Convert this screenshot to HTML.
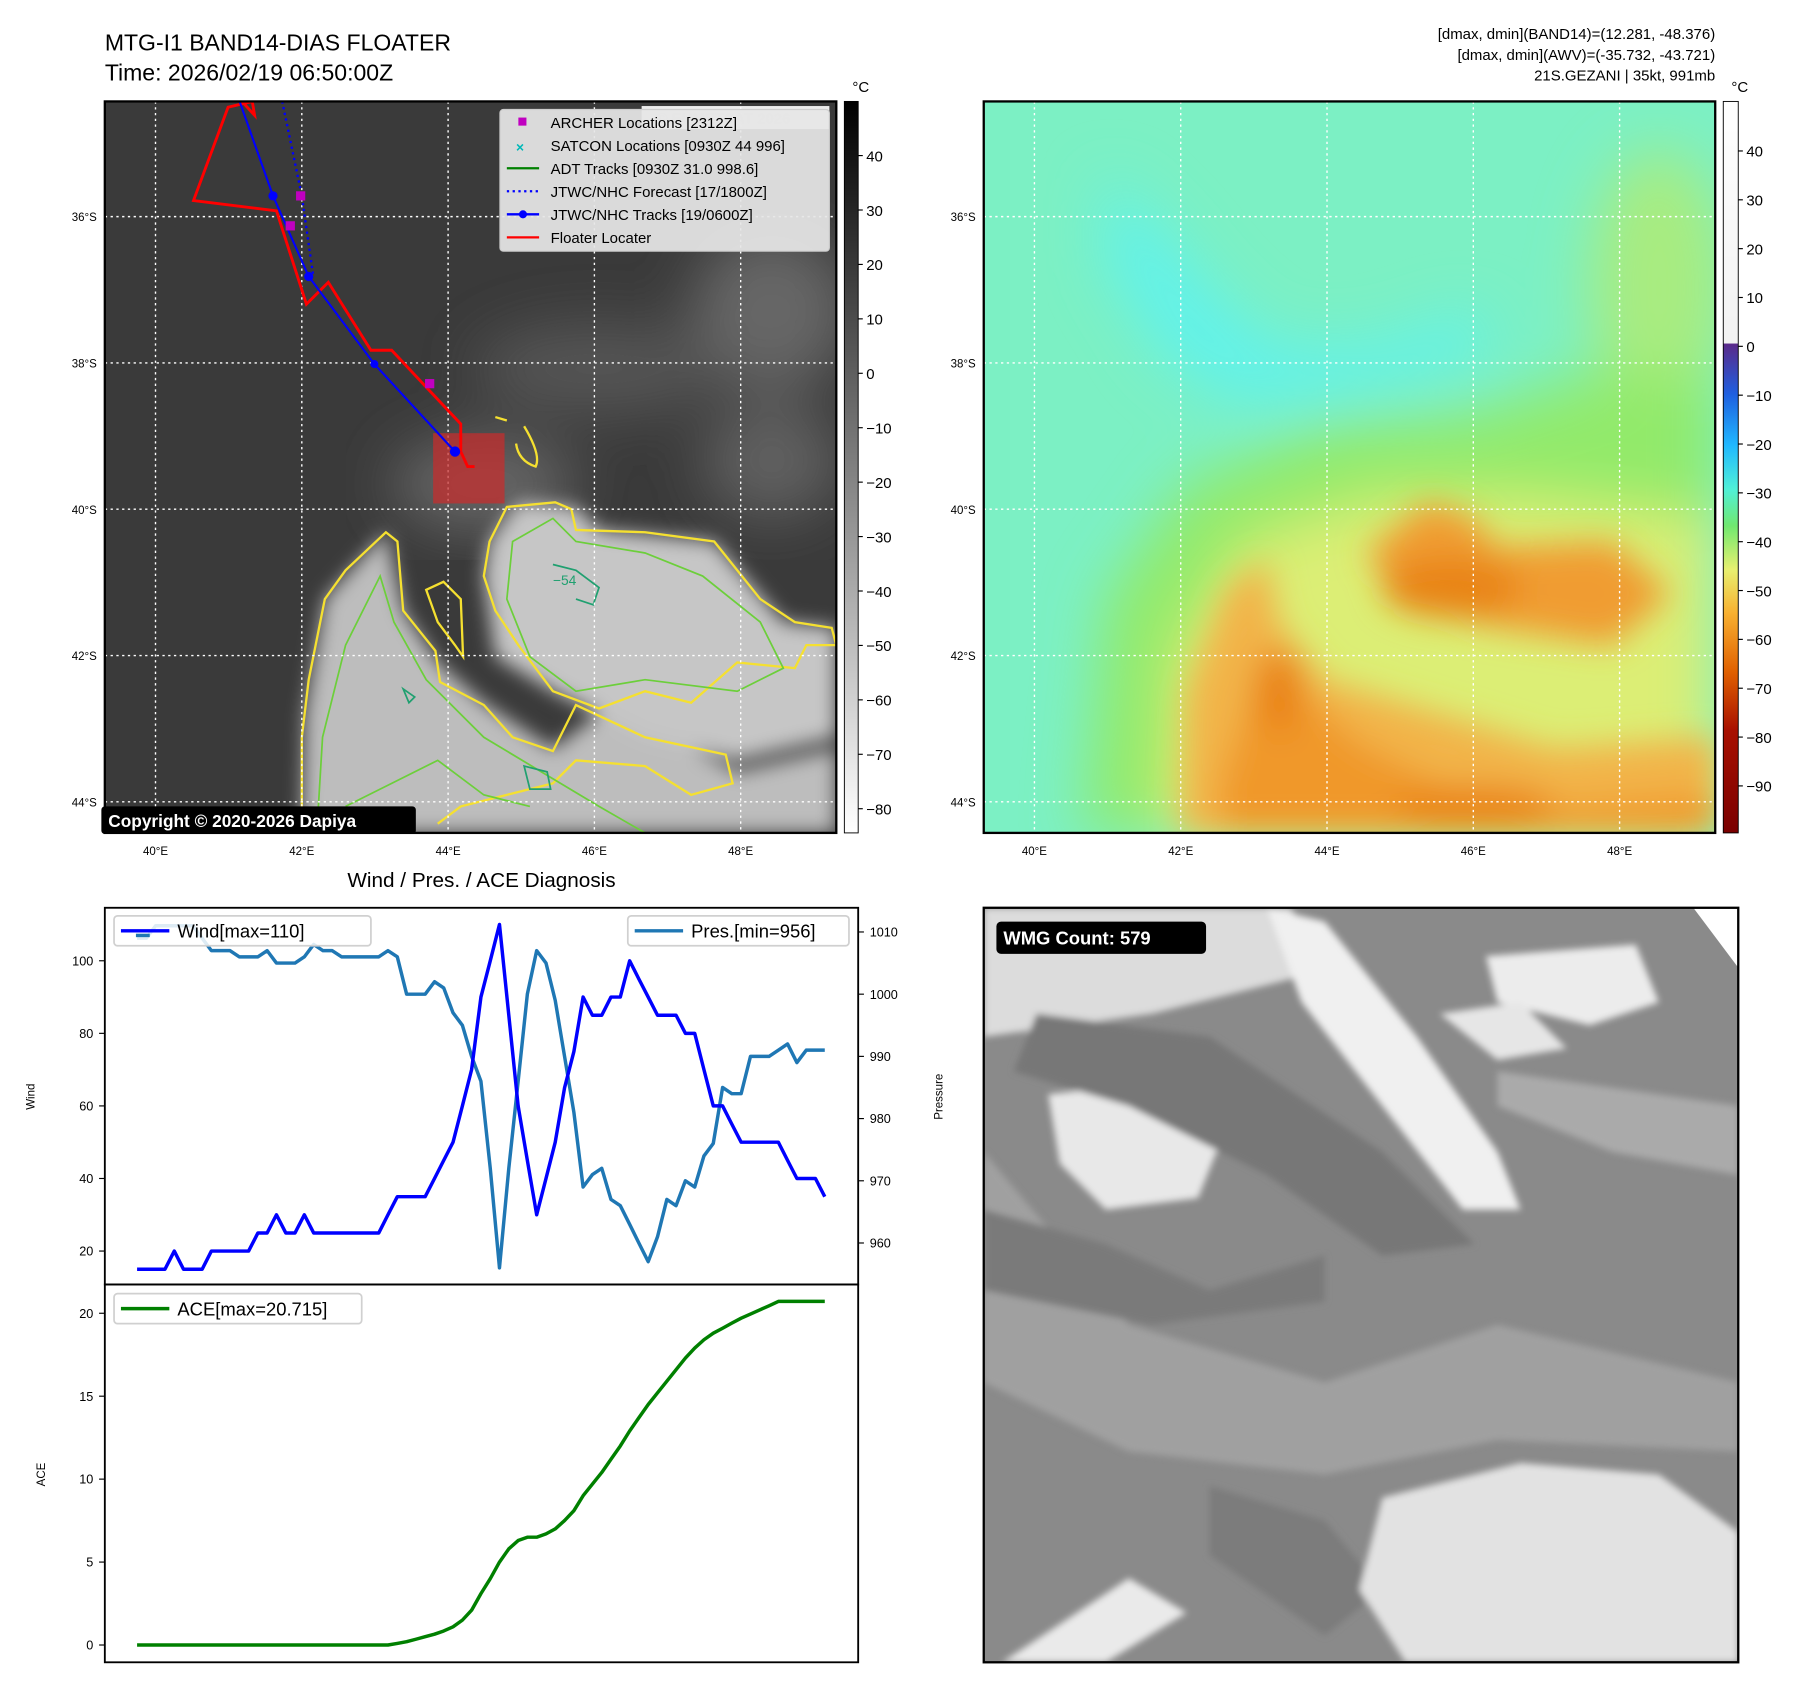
<!DOCTYPE html>
<html><head><meta charset="utf-8"><style>
html,body{margin:0;padding:0;background:#fff;}
svg{display:block;font-family:"Liberation Sans","DejaVu Sans",sans-serif;}
</style></head><body>
<svg id="fig" width="1797" height="1690" viewBox="0 0 1560 1467" xmlns="http://www.w3.org/2000/svg">
<defs>
<linearGradient id="cbGray" x1="0" y1="0" x2="0" y2="1"><stop offset="0" stop-color="#000"/><stop offset="1" stop-color="#fff"/></linearGradient>
<linearGradient id="cbColor" x1="0" y1="0" x2="0" y2="1">
<stop offset="0" stop-color="#ffffff"/><stop offset="0.33" stop-color="#f2f2f2"/>
<stop offset="0.332" stop-color="#5a2a8a"/><stop offset="0.4" stop-color="#1f5fe0"/>
<stop offset="0.47" stop-color="#20b8ff"/><stop offset="0.53" stop-color="#50f0d8"/>
<stop offset="0.58" stop-color="#70e870"/><stop offset="0.64" stop-color="#e8f070"/>
<stop offset="0.70" stop-color="#f8b030"/><stop offset="0.78" stop-color="#e06000"/>
<stop offset="0.86" stop-color="#a81000"/><stop offset="1" stop-color="#7a0000"/></linearGradient>
<filter id="blur3"><feGaussianBlur stdDeviation="3"/></filter>
<filter id="blur8"><feGaussianBlur stdDeviation="8"/></filter>
<filter id="blur14"><feGaussianBlur stdDeviation="14"/></filter>
<filter id="blur25"><feGaussianBlur stdDeviation="25"/></filter>
<clipPath id="clipL"><rect x="91" y="88" width="635" height="635"/></clipPath>
<clipPath id="clipR"><rect x="854" y="88" width="635" height="635"/></clipPath>
<clipPath id="clipB"><rect x="854" y="788" width="655" height="655"/></clipPath>
</defs>

<text x="91" y="44" font-size="20">MTG-I1 BAND14-DIAS FLOATER</text>
<text x="91" y="70" font-size="20">Time: 2026/02/19 06:50:00Z</text>
<g font-size="13" text-anchor="end">
<text x="1489" y="34">[dmax, dmin](BAND14)=(12.281, -48.376)</text>
<text x="1489" y="52">[dmax, dmin](AWV)=(-35.732, -43.721)</text>
<text x="1489" y="70">21S.GEZANI | 35kt, 991mb</text>
</g>

<g clip-path="url(#clipL)">
<rect x="91" y="88" width="635" height="635" fill="#3a3a3a"/>
<g filter="url(#blur25)" fill="#666">
<ellipse cx="670" cy="270" rx="70" ry="70"/>
<ellipse cx="520" cy="320" rx="110" ry="40" fill="#555"/>
<ellipse cx="420" cy="420" rx="80" ry="40" fill="#666"/>
<ellipse cx="670" cy="400" rx="60" ry="50" fill="#606060"/>
</g>
<g filter="url(#blur8)">
<path d="M262 723 L265 620 L282 520 L335 462 L350 530 L380 575 L420 610 L480 650 L520 620 L600 650 L640 670 L726 650 L726 723 Z" fill="#bdbdbd"/>
<path d="M425 470 L450 436 L500 440 L520 460 L620 470 L680 540 L726 545 L726 640 L640 660 L560 640 L480 600 L430 570 L420 500 Z" fill="#c6c6c6"/>
</g>
<g fill="none" stroke="#f5e030" stroke-width="2">
<path d="M262 723 L262 640 L268 590 L282 520 L300 495 L335 462 L345 470 L350 530 L378 565 L382 592 L420 612 L445 640 L480 652 L500 612 L560 640 L630 655 L636 680 L600 690 L560 665 L500 660 L480 680 L440 690 L400 700 L380 715"/>
<path d="M425 470 L440 440 L482 436 L496 442 L500 460 L560 462 L620 470 L660 520 L690 540 L722 545 L726 560 L700 560 L690 580 L640 575 L600 610 L560 600 L520 615 L480 600 L450 560 L430 530 L420 500 Z"/>
<path d="M370 512 L385 505 L400 520 L402 570 L395 560 L380 540 Z"/>
<path d="M430 362 L440 365 M455 370 Q470 395 465 405 Q450 400 448 385"/>
</g>
<g fill="none" stroke="#6ccf3a" stroke-width="1.5">
<path d="M275 723 L280 640 L300 560 L330 500 L342 540 L370 590 L420 640 L470 670 L520 700 L560 723"/>
<path d="M445 470 L480 450 L500 470 L560 480 L610 500 L660 540 L680 580 L640 600 L560 590 L500 600 L460 570 L440 520 Z"/>
<path d="M300 700 L340 680 L380 660 L420 690 L460 700"/>
</g>
<g fill="none" stroke="#20a070" stroke-width="1.5">
<path d="M480 490 L500 495 L520 510 L515 525 L500 520"/><path d="M455 665 L475 670 L478 685 L460 685 Z"/><path d="M350 598 L360 605 L355 610 Z"/>
</g>
<text x="480" y="508" font-size="12" fill="#20a070">−54</text>
<g stroke="#fff" stroke-width="1.2" stroke-dasharray="2,3">
<line x1="135" y1="88" x2="135" y2="723"/><line x1="262" y1="88" x2="262" y2="723"/><line x1="389" y1="88" x2="389" y2="723"/><line x1="516" y1="88" x2="516" y2="723"/><line x1="643" y1="88" x2="643" y2="723"/>
<line x1="91" y1="188" x2="726" y2="188"/><line x1="91" y1="315" x2="726" y2="315"/><line x1="91" y1="442" x2="726" y2="442"/><line x1="91" y1="569" x2="726" y2="569"/><line x1="91" y1="696" x2="726" y2="696"/>
</g>
<rect x="376" y="376" width="62" height="61" fill="rgba(200,45,45,0.72)"/>
<polyline points="210,88 221,100 219,88 198,93 168,174 240,183 266,264 285,245 322,304 340,304 400,368 400,392 406,405 412,405" fill="none" stroke="#f00" stroke-width="2.5"/>
<polyline points="245,88 262,170 272,240" fill="none" stroke="#00f" stroke-width="2" stroke-dasharray="2,3"/>
<polyline points="208,88 237,170 268,240 325,316 395,392" fill="none" stroke="#00f" stroke-width="1.8"/>
<g fill="#00f"><circle cx="237" cy="170" r="4"/><circle cx="268" cy="240" r="4"/><circle cx="325" cy="316" r="3.5"/><circle cx="395" cy="392" r="4.5"/></g>
<g fill="#c000c0"><rect x="257" y="166" width="8" height="8"/><rect x="248" y="192" width="8" height="8"/><rect x="369" y="329" width="8" height="8"/></g>
</g>
<rect x="91" y="88" width="635" height="635" fill="none" stroke="#000" stroke-width="2"/>
<g>
<rect x="557" y="92" width="163" height="20" fill="#fff" opacity="0.9"/>
<text x="570" y="107" font-size="13" fill="#ddd" font-weight="bold">© EUMETSAT 2026</text>
<rect x="434" y="95" width="286" height="123" rx="3" fill="#e6e6e6" fill-opacity="0.93" stroke="#ccc"/>
<g font-size="13">
<rect x="450" y="102" width="7" height="7" fill="#c000c0"/><text x="478" y="111">ARCHER Locations [2312Z]</text>
<text x="448" y="132" fill="#00b8b8" font-size="12" font-weight="bold">×</text><text x="478" y="131">SATCON Locations [0930Z 44 996]</text>
<line x1="440" y1="146" x2="468" y2="146" stroke="#008000" stroke-width="2"/><text x="478" y="151">ADT Tracks [0930Z 31.0 998.6]</text>
<line x1="440" y1="166" x2="468" y2="166" stroke="#00f" stroke-width="2" stroke-dasharray="2,3"/><text x="478" y="171">JTWC/NHC Forecast [17/1800Z]</text>
<line x1="440" y1="186" x2="468" y2="186" stroke="#00f" stroke-width="2"/><circle cx="454" cy="186" r="3.5" fill="#00f"/><text x="478" y="191">JTWC/NHC Tracks [19/0600Z]</text>
<line x1="440" y1="206" x2="468" y2="206" stroke="#f00" stroke-width="2"/><text x="478" y="211">Floater Locater</text>
</g></g>
<rect x="88" y="700" width="273" height="24" rx="3" fill="#000"/>
<text x="94" y="718" font-size="15" font-weight="bold" fill="#fff">Copyright © 2020-2026 Dapiya</text>
<g font-size="10" text-anchor="end">
<text x="84" y="192">36°S</text><text x="84" y="319">38°S</text><text x="84" y="446">40°S</text><text x="84" y="573">42°S</text><text x="84" y="700">44°S</text></g>
<g font-size="10" text-anchor="middle">
<text x="135" y="742">40°E</text><text x="262" y="742">42°E</text><text x="389" y="742">44°E</text><text x="516" y="742">46°E</text><text x="643" y="742">48°E</text></g>
<g>
<rect x="733" y="88" width="12" height="635" fill="url(#cbGray)" stroke="#000" stroke-width="0.8"/>
<text x="740" y="80" font-size="13">°C</text>
<g font-size="13" id="cbL"></g></g>

<g clip-path="url(#clipR)">
<rect x="854" y="88" width="635" height="635" fill="#7cf0c4"/>
<g filter="url(#blur25)">
<path d="M960 150 L1010 200 L1060 260 L1110 300 L1190 300 L1280 270 L1300 300 L1230 330 L1140 350 L1070 350 L1010 310 L960 230 Z" fill="#62f2ea"/>
<ellipse cx="1440" cy="250" rx="60" ry="120" fill="#a8ec80"/>
<path d="M940 723 L960 520 L1030 420 L1150 370 L1280 360 L1400 320 L1489 330 L1489 723 Z" fill="#92ea6a"/>
<path d="M1010 723 L1020 570 L1080 470 L1200 430 L1320 430 L1489 450 L1489 723 Z" fill="#dcee74"/>
</g>
<g filter="url(#blur14)">
<path d="M1025 723 L1030 600 L1065 510 L1100 485 L1110 540 L1150 590 L1250 620 L1350 650 L1489 640 L1489 723 Z" fill="#f2b448"/>
<path d="M1185 480 L1240 435 L1280 450 L1300 475 L1400 470 L1450 515 L1400 560 L1300 545 L1230 530 Z" fill="#f09c30"/>
<path d="M1060 680 L1095 580 L1130 600 L1180 645 L1250 680 L1350 700 L1489 690 L1489 723 L1060 723 Z" fill="#f0982a"/>
<ellipse cx="1260" cy="510" rx="60" ry="26" fill="#e98418"/>
<ellipse cx="1110" cy="600" rx="22" ry="36" fill="#ea8418"/>
<ellipse cx="1280" cy="700" rx="70" ry="18" fill="#ea8418"/>
</g>
<g stroke="#fff" stroke-width="1.2" stroke-dasharray="2,3">
<line x1="898" y1="88" x2="898" y2="723"/><line x1="1025" y1="88" x2="1025" y2="723"/><line x1="1152" y1="88" x2="1152" y2="723"/><line x1="1279" y1="88" x2="1279" y2="723"/><line x1="1406" y1="88" x2="1406" y2="723"/>
<line x1="854" y1="188" x2="1489" y2="188"/><line x1="854" y1="315" x2="1489" y2="315"/><line x1="854" y1="442" x2="1489" y2="442"/><line x1="854" y1="569" x2="1489" y2="569"/><line x1="854" y1="696" x2="1489" y2="696"/>
</g></g>
<rect x="854" y="88" width="635" height="635" fill="none" stroke="#000" stroke-width="2"/>
<g font-size="10" text-anchor="end"><text x="847" y="192">36°S</text><text x="847" y="319">38°S</text><text x="847" y="446">40°S</text><text x="847" y="573">42°S</text><text x="847" y="700">44°S</text></g>
<g font-size="10" text-anchor="middle"><text x="898" y="742">40°E</text><text x="1025" y="742">42°E</text><text x="1152" y="742">44°E</text><text x="1279" y="742">46°E</text><text x="1406" y="742">48°E</text></g>
<g>
<rect x="1496" y="88" width="13" height="635" fill="url(#cbColor)" stroke="#000" stroke-width="0.8"/>
<text x="1503" y="80" font-size="13">°C</text>
<g font-size="13" id="cbR"></g></g>

<g clip-path="url(#clipB)">
<rect x="854" y="788" width="655" height="655" fill="#8a8a8a"/>
<g filter="url(#blur3)">
<path d="M854 788 L1120 788 L1160 840 L1000 880 L854 900 Z" fill="#dcdcdc"/>
<path d="M1100 788 L1150 800 L1230 900 L1300 1000 L1320 1050 L1270 1050 L1200 960 L1130 870 Z" fill="#f0f0f0"/>
<path d="M1290 830 L1420 820 L1440 870 L1380 890 L1300 870 Z" fill="#ececec"/>
<path d="M1250 880 L1320 870 L1360 910 L1300 920 Z" fill="#e6e6e6"/>
<path d="M910 950 L1000 940 L1060 990 L1040 1040 L960 1050 L920 1010 Z" fill="#e8e8e8"/>
<path d="M854 1000 L980 1150 L1150 1200 L1300 1150 L1509 1200 L1509 1260 L1300 1250 L1150 1280 L980 1260 L854 1200 Z" fill="#a0a0a0"/>
<path d="M900 880 L1050 900 L1200 1000 L1280 1080 L1200 1090 L1100 1020 L980 960 L880 930 Z" fill="#777"/>
<path d="M1300 930 L1509 960 L1509 1020 L1400 1000 L1300 960 Z" fill="#aaa"/>
<path d="M854 1050 L960 1080 L1050 1120 L1150 1090 L1150 1130 L1000 1150 L854 1120 Z" fill="#7a7a7a"/>
<path d="M1050 1290 L1150 1320 L1200 1380 L1150 1420 L1050 1350 Z" fill="#7c7c7c"/>
<path d="M1200 1300 L1320 1270 L1440 1280 L1509 1330 L1509 1443 L1220 1443 L1180 1380 Z" fill="#e2e2e2"/>
<path d="M980 1370 L1030 1400 L960 1443 L870 1443 Z" fill="#eaeaea"/>
</g>
<path d="M1470 788 L1509 788 L1509 840 Z" fill="#fff"/>
</g>
<rect x="854" y="788" width="655" height="655" fill="none" stroke="#000" stroke-width="2"/>
<rect x="865" y="800" width="182" height="28" rx="4" fill="#000"/>
<text x="871" y="820" font-size="16" font-weight="bold" fill="#fff">WMG Count: 579</text>

<text x="418" y="770" font-size="18" text-anchor="middle">Wind / Pres. / ACE Diagnosis</text>
<g id="chart"></g>
</svg>
<script>
const windVals=[15,15,15,15,20,15,15,15,20,20,20,20,20,25,25,30,25,25,30,25,25,25,25,25,25,25,25,30,35,35,35,35,40,45,50,60,70,90,100,110,85,60,45,30,40,50,65,75,90,85,85,90,90,100,95,90,85,85,85,80,80,70,60,60,55,50,50,50,50,50,45,40,40,40,35];
const presVals=[1009,1009,1011,1011,1011,1011,1011,1009,1007,1007,1007,1006,1006,1006,1007,1005,1005,1005,1006,1008,1007,1007,1006,1006,1006,1006,1006,1007,1006,1000,1000,1000,1002,1001,997,995,990,986,972,956,972,986,1000,1007,1005,999,990,981,969,971,972,967,966,963,960,957,961,967,966,970,969,974,976,985,984,984,990,990,990,991,992,989,991,991,991];
const aceVals=[0,0,0,0,0,0,0,0,0,0,0,0,0,0,0,0,0,0,0,0,0,0,0,0,0,0,0,0,0.1,0.2,0.35,0.5,0.65,0.85,1.1,1.5,2.1,3.1,4.0,5.0,5.8,6.3,6.5,6.5,6.7,7.0,7.5,8.1,9.0,9.7,10.4,11.2,12.0,12.9,13.7,14.5,15.2,15.9,16.6,17.3,17.9,18.4,18.8,19.1,19.4,19.7,19.95,20.2,20.45,20.715,20.715,20.715,20.715,20.715,20.715];
const windTicks=[20,40,60,80,100];
const presTicks=[960,970,980,990,1000,1010];
const aceTicks=[0,5,10,15,20];
const irTicks=[40,30,20,10,0,-10,-20,-30,-40,-50,-60,-70,-80];
const awvTicks=[40,30,20,10,0,-10,-20,-30,-40,-50,-60,-70,-80,-90];

const NS="http://www.w3.org/2000/svg";
function mk(tag,attrs,parent){const e=document.createElementNS(NS,tag);for(const k in attrs)e.setAttribute(k,attrs[k]);parent.appendChild(e);return e;}
const X0=91,X1=745,T=788,MID=1115,B=1443;
const n=windVals.length;
const xS=i=>119+(716-119)*i/(n-1);
const yWind=v=>834+(100-v)*3.15;
const yPres=v=>809+(1010-v)*5.4;
const yAce=v=>1428-v*14.4;
const yIr=v=>135+(40-v)*4.725;
const yAwv=v=>131+(40-v)*4.24;
const g=document.getElementById('chart');

function path(vals,fx,fy,color,name){
  const p=mk('polyline',{points:vals.map((v,i)=>fx(i).toFixed(1)+','+fy(v).toFixed(1)).join(' '),fill:'none',stroke:color,'stroke-width':3,'stroke-linejoin':'round'},g);
  
  
}
path(presVals,xS,yPres,'#1f77b4','pressure-line');
path(windVals,xS,yWind,'#0000ff','wind-line');
path(aceVals,xS,yAce,'#008000','ace-line');

mk('rect',{x:X0,y:T,width:X1-X0,height:MID-T,fill:'none',stroke:'#000','stroke-width':1.6},g);
mk('rect',{x:X0,y:MID,width:X1-X0,height:B-MID,fill:'none',stroke:'#000','stroke-width':1.6},g);

windTicks.forEach(v=>{const y=yWind(v);mk('line',{x1:X0-5,y1:y,x2:X0,y2:y,stroke:'#000'},g);const t=mk('text',{x:X0-10,y:y+4,'font-size':11,'text-anchor':'end'},g);t.textContent=v;});
presTicks.forEach(v=>{const y=yPres(v);mk('line',{x1:X1,y1:y,x2:X1+5,y2:y,stroke:'#000'},g);const t=mk('text',{x:X1+10,y:y+4,'font-size':11},g);t.textContent=v;});
aceTicks.forEach(v=>{const y=yAce(v);mk('line',{x1:X0-5,y1:y,x2:X0,y2:y,stroke:'#000'},g);const t=mk('text',{x:X0-10,y:y+4,'font-size':11,'text-anchor':'end'},g);t.textContent=v;});

let t=mk('text',{x:30,y:952,'font-size':10,'text-anchor':'middle',transform:'rotate(-90 30 952)'},g);t.textContent='Wind';

t=mk('text',{x:818,y:952,'font-size':10,'text-anchor':'middle',transform:'rotate(-90 818 952)'},g);t.textContent='Pressure';

t=mk('text',{x:39,y:1280,'font-size':10,'text-anchor':'middle',transform:'rotate(-90 39 1280)'},g);t.textContent='ACE';


function legend(x,y,w,color,label,name){
  const lg=mk('g',{},g);
  
  
  mk('rect',{x:x,y:y,width:w,height:26,rx:3,fill:'#fff','fill-opacity':0.85,stroke:'#d0d0d0','stroke-width':1.5},lg);
  mk('line',{x1:x+6,y1:y+13,x2:x+48,y2:y+13,stroke:color,'stroke-width':3},lg);
  const tt=mk('text',{x:x+55,y:y+19,'font-size':16},lg);tt.textContent=label;
}
legend(99,795,223,'#0000ff','Wind[max=110]','wind-legend');
mk('line',{x1:118,y1:812,x2:130,y2:812,stroke:'#1f77b4','stroke-width':3},g);
legend(545,795,192,'#1f77b4','Pres.[min=956]','pressure-legend');
legend(99,1123,215,'#008000','ACE[max=20.715]','ace-legend');

const cbL=document.getElementById('cbL');
irTicks.forEach(v=>{const y=yIr(v);mk('line',{x1:745,y1:y,x2:749,y2:y,stroke:'#000'},cbL);const tx=mk('text',{x:752,y:y+5},cbL);tx.textContent=v<0?'−'+(-v):v;});
const cbR=document.getElementById('cbR');
awvTicks.forEach(v=>{const y=yAwv(v);mk('line',{x1:1509,y1:y,x2:1513,y2:y,stroke:'#000'},cbR);const tx=mk('text',{x:1516,y:y+5},cbR);tx.textContent=v<0?'−'+(-v):v;});
</script>
</body></html>
